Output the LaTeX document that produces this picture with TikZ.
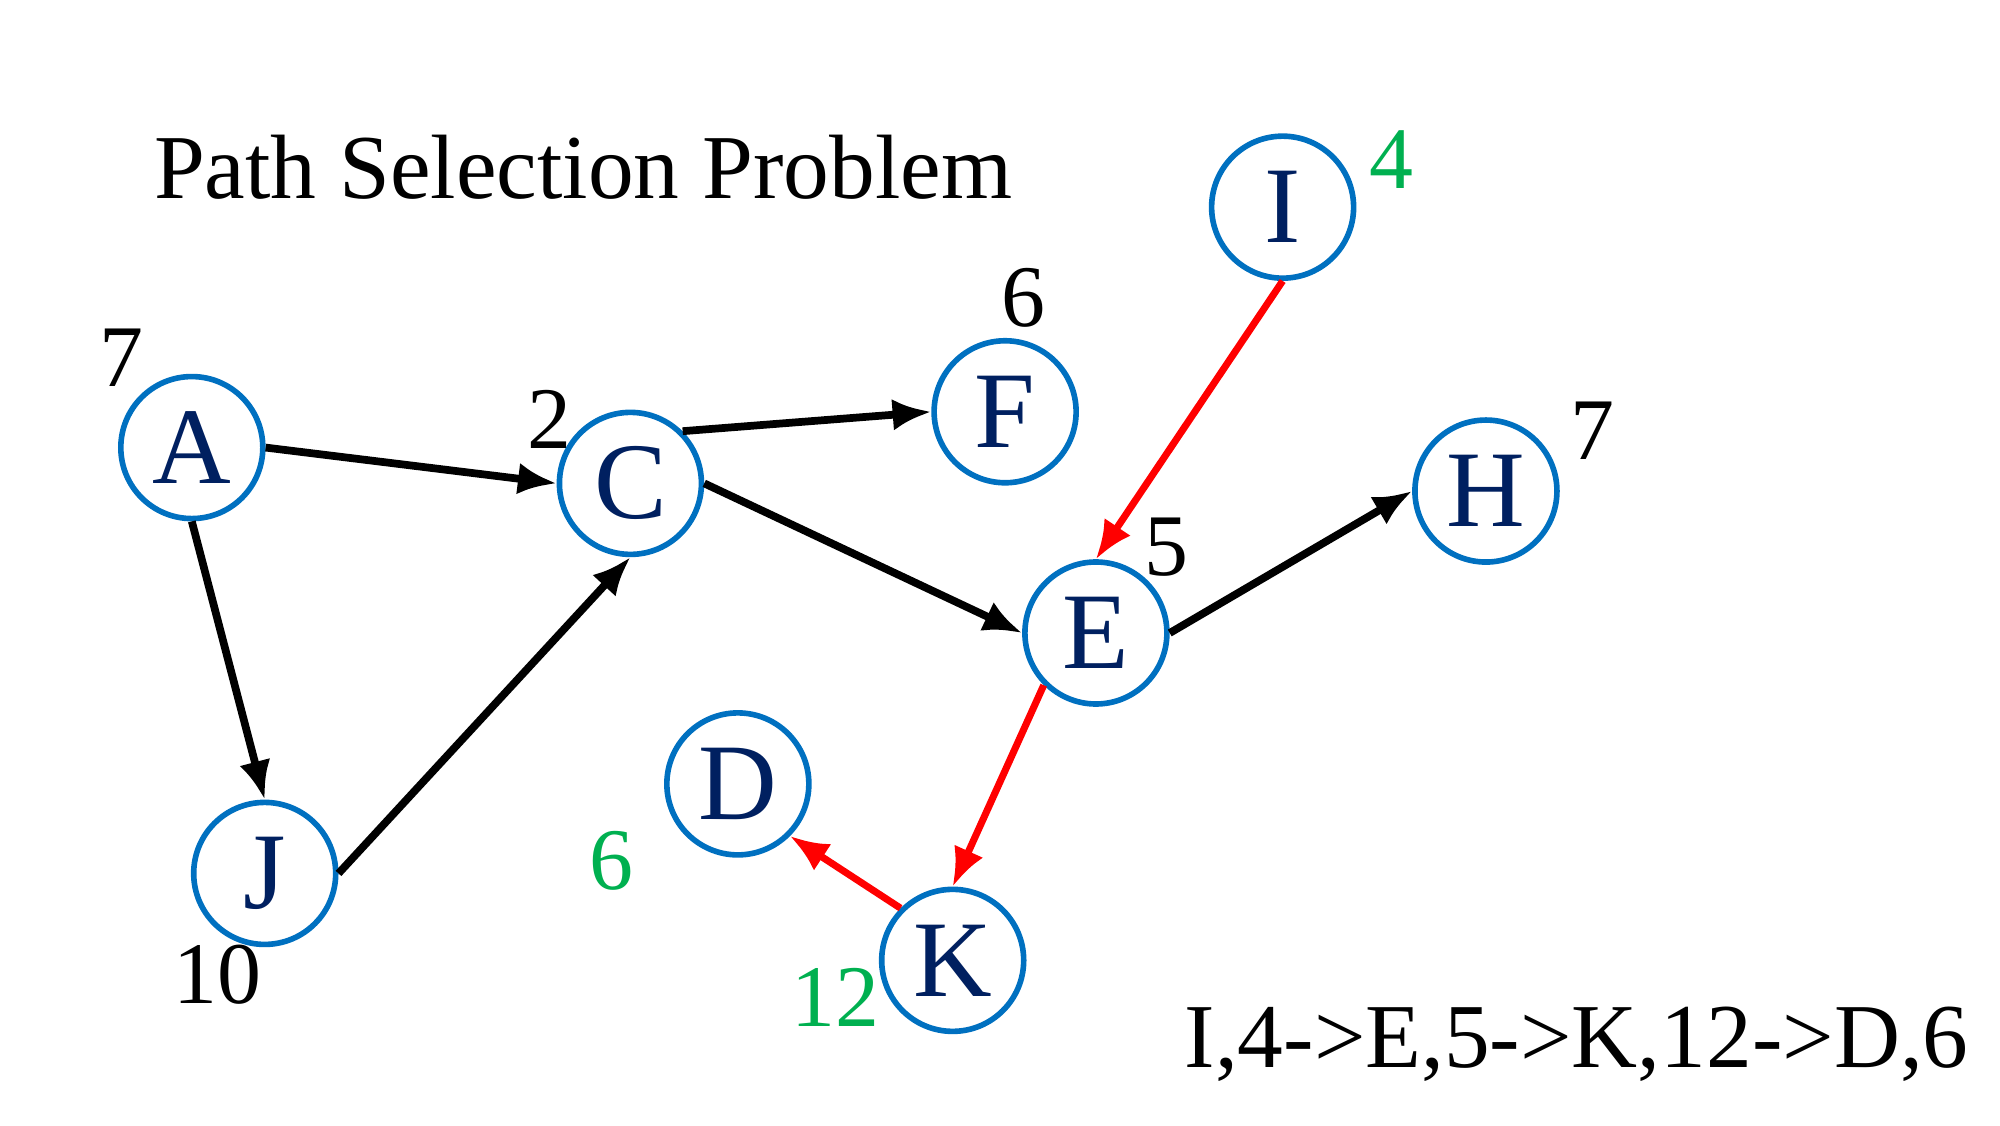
\documentclass[tikz,border=0pt]{standalone}
\usepackage{fontspec}
\setmainfont{Liberation Serif}
\usetikzlibrary{arrows.meta}
\definecolor{ringblue}{RGB}{0,112,192}
\definecolor{letternavy}{RGB}{0,32,96}
\definecolor{costgreen}{RGB}{0,176,80}

\begin{document}
\begin{tikzpicture}[x=0.01279cm, y=-0.01279cm]
        \tikzstyle{vertex}=[circle, line width=1.6pt, draw=ringblue, fill=white, minimum size=1.42cm, inner sep=0pt, text=letternavy, font=\fontsize{31}{31}\selectfont]
        \tikzstyle{cost}=[inner sep=0pt, font=\fontsize{25}{25}\selectfont]
        \tikzstyle{best}=[cost, text=costgreen]
        \tikzstyle{edge}=[-{Latex[length=11pt,width=9pt]}, line width=2.2pt, black]
        \tikzstyle{path}=[edge, red, line width=2pt]
        \useasboundingbox (0,0) rectangle (1564,880);
        % title and result
        \node [anchor=base west, inner sep=0pt, font=\fontsize{26}{26}\selectfont] (title) at (120,155) {Path Selection Problem};
        \node [anchor=base east, inner sep=0pt, font=\fontsize{26}{26}\selectfont] (route) at (1540,835) {I,4->E,5->K,12->D,6};
        % vertices
        \node [vertex] (a) at (150,350) {A};
        \node [vertex] (c) at (493,378) {C};
        \node [vertex] (f) at (786,322) {F};
        \node [vertex] (i) at (1003,162) {I};
        \node [vertex] (h) at (1162,384) {H};
        \node [vertex] (e) at (857,495) {E};
        \node [vertex] (d) at (577,613) {D};
        \node [vertex] (j) at (207,683) {J};
        \node [vertex] (k) at (745,751) {K};
        % costs
        \node [cost] (wa) at (95,280) {7};
        \node [cost] (wc) at (430,328) {2};
        \node [cost] (wf) at (800,233) {6};
        \node [cost] (wh) at (1245,337) {7};
        \node [cost] (we) at (912,428) {5};
        \node [cost] (wj) at (170,762) {10};
        \node [best] (wi) at (1088,125) {4};
        \node [best] (wd) at (478,673) {6};
        \node [best] (wk) at (653,780) {12};
        % edges
        \draw [edge] (a.east) -- (c.west);
        \draw [edge] (a.south) -- (j.north);
        \draw [edge] (j.east) -- (c.south);
        \draw [edge] (c.north east) -- (f.west);
        \draw [edge] (c.east) -- (e.west);
        \draw [edge] (e.east) -- (h.west);
        \draw [path] (i.south) -- (e.north);
        \draw [path] (e.south west) -- (k.north);
        \draw [path] (k.north west) -- (d.south east);
\end{tikzpicture}
\end{document}
